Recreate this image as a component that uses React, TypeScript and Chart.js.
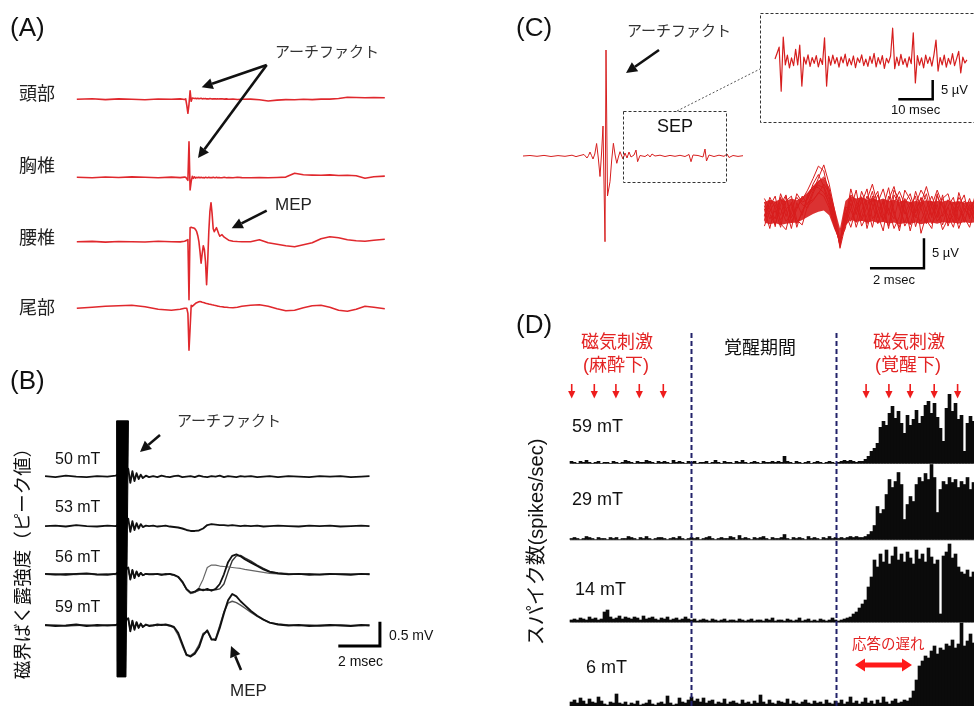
import React, { useEffect, useRef } from "react";
import { Chart, registerables } from "chart.js";

Chart.register(...registerables);

const W = 974;
const H = 706;
const FONT = '"Liberation Sans", "Noto Sans CJK JP", Arial, sans-serif';

// ================= Panel A : spinal recordings (ms, arbitrary units) =================
const timeA = [-25.5, -22, -19, -16, -13, -10, -7, -4, -2, -1,
  -0.75, -0.5, -0.25, 0, 0.25, 0.5, 0.75, 1, 1.25, 1.5,
  1.75, 2, 2.25, 2.5, 2.75, 3, 3.25, 3.5, 3.75, 4,
  4.25, 4.5, 4.75, 5, 5.25, 5.5, 5.75, 6, 6.25, 6.5,
  6.75, 7, 7.5, 8, 8.5, 9, 10, 11, 12, 14,
  16, 18, 20, 22, 24, 26, 28, 30, 32, 34,
  36, 38, 40, 42, 44.5];
const headA = [0, 0.05, -0.03, 0.04, 0, -0.05, 0.03, 0, 0.04, -0.02,
  0.05, -0.6, -1.4, -0.5, 0.86, -0.2, 0.12, 0.1, 0.08, 0.1,
  0.06, 0.1, 0.05, 0.08, 0.1, 0.04, 0.07, 0.05, 0.08, 0.04,
  0.06, 0.03, 0.07, 0.05, 0.02, 0.06, 0.04, 0.05, 0.02, 0.06,
  0.03, 0.04, 0.05, 0.02, 0.04, 0, 0.03, -0.02, 0, 0.02,
  -0.05, -0.17, -0.08, -0.03, -0.05, 0, -0.03, 0.02, 0.02, 0.08,
  0.2, 0.18, 0.15, 0.17, 0.16];
const thoracicA = [0, -0.05, 0.03, -0.02, 0.04, 0, -0.04, 0.02, -0.03, 0.02,
  0, -0.15, -0.3, 3.56, -1.27, -0.4, 0.1, -0.1, 0.05, -0.08,
  0, -0.05, 0.02, -0.06, 0, -0.04, -0.02, -0.06, 0, -0.03,
  -0.05, 0.01, -0.04, -0.02, -0.05, 0, -0.03, -0.04, 0, -0.05,
  -0.02, -0.03, -0.04, 0, -0.05, -0.02, -0.04, 0, -0.03, -0.04,
  -0.02, -0.05, -0.02, 0.02, 0.4, 0.25, 0.22, 0.2, 0.24, 0.18,
  0.2, 0.15, -0.1, 0.05, 0.12];
const lumbarA = [0, 0.03, -0.04, 0.02, 0, -0.03, 0.04, 0, -0.02, 0.05,
  0.1, 0.15, 0.2, -5.8, 1.4, 1.45, 1.4, 1.38, 1.35, 1.2,
  1.0, 0.6, 0.0, -1.0, -2.15, -1.2, -0.4, -0.8, -2.0, -4.3,
  -2.0, 1.0, 3.0, 3.9, 2.8, 1.3, 1.0, 1.2, 1.4, 1.1,
  0.8, 0.55, 0.7, 0.45, 0.3, 0.15, 0.05, 0.02, 0, 0,
  0.2, -0.1, -0.25, -0.4, -0.5, -0.3, -0.1, 0.3, 0.5, 0.4,
  0.2, 0.1, 0.05, 0.15, 0.25];
const sacralA = [0, 0.1, 0.2, 0.25, 0.3, 0.15, -0.1, -0.2, -0.1, 0,
  0, 0, -0.5, -4.2, -2.0, 0.3, 0.2, 0.3, 0.4, 0.5,
  0.55, 0.6, 0.65, 0.68, 0.65, 0.6, 0.58, 0.55, 0.5, 0.48,
  0.45, 0.42, 0.4, 0.38, 0.35, 0.33, 0.3, 0.28, 0.25, 0.22,
  0.2, 0.18, 0.15, 0.12, 0.1, 0.08, 0.05, 0.1, 0.2, 0.3,
  0.35, 0.2, -0.05, -0.25, -0.2, 0.05, 0.25, 0.3, 0.1, -0.2,
  -0.3, -0.1, 0.2, 0.1, -0.05];
const siteNamesA = ["頭部", "胸椎", "腰椎", "尾部"];

// ================= Panel B : MEP by field intensity (ms, mV) =================
const timeB = [-3.7, -3.2, -2.7, -2.2, -1.7, -1.2, -0.7, -0.3,
  0.3, 0.4, 0.5, 0.6, 0.7, 0.8, 0.9, 1.0, 1.15, 1.3,
  1.5, 1.7, 1.9, 2.1, 2.3, 2.5, 2.7, 2.9, 3.1, 3.3, 3.5, 3.7, 3.9, 4.1, 4.3, 4.5, 4.7, 4.9, 5.1, 5.3, 5.5, 5.7, 5.9,
  6.2, 6.5, 6.8, 7.1, 7.5, 8, 8.5, 9, 9.5, 10, 10.5, 11, 11.5, 11.9];
const mep50 = [0.01, -0.01, 0.02, 0, -0.01, 0.01, 0, 0.02,
  0.16, -0.13, 0.11, -0.09, 0.07, -0.05, 0.04, -0.03, 0.02, -0.01,
  0.01, -0.01, 0.02, 0, -0.01, 0.01, 0.02, -0.01, 0, 0.01, -0.01, 0.02, 0, -0.01, 0.01, 0, 0.02, -0.01, 0.01, 0, -0.01, 0.01, 0,
  0.01, -0.01, 0, 0.01, -0.01, 0.01, 0, -0.01, 0.01, 0, 0.01, -0.01, 0, 0.01];
const mep53 = [0, 0.01, -0.01, 0.02, 0, -0.01, 0.01, 0,
  0.15, -0.12, 0.1, -0.08, 0.06, -0.05, 0.04, -0.02, 0.01, 0,
  0.01, -0.01, 0, 0.01, -0.01, -0.02, -0.03, -0.05, -0.08, -0.1, -0.1, -0.09, -0.05, 0.02, 0.04, 0.03, 0.02, 0.02, 0.01, 0.02, 0.01, 0, 0.01,
  0, 0.01, -0.01, 0, 0.01, 0, -0.01, 0.01, 0, 0.01, -0.01, 0, 0.01, 0];
const mep56a = [0.01, 0, -0.01, 0.01, 0.02, 0, -0.01, 0.01,
  0.14, -0.11, 0.09, -0.08, 0.06, -0.04, 0.03, -0.02, 0.01, 0,
  0, 0.01, -0.01, 0, 0.01, -0.01, -0.05, -0.15, -0.3, -0.38, -0.36, -0.3, -0.33, -0.3, -0.34, -0.3, -0.2, 0, 0.25, 0.38, 0.41, 0.37, 0.31,
  0.24, 0.17, 0.1, 0.05, 0.02, 0, 0.01, -0.01, 0, 0.01, 0, -0.01, 0.01, 0];
const mep56b = [0, 0.01, 0, -0.01, 0.01, 0, 0.01, -0.01,
  0.12, -0.1, 0.08, -0.07, 0.05, -0.04, 0.03, -0.02, 0, 0.01,
  0.01, 0, 0.01, -0.01, 0, -0.02, -0.06, -0.17, -0.32, -0.4, -0.37, -0.28, -0.1, 0.14, 0.19, 0.19, 0.17, 0.16, 0.15, 0.14, 0.13, 0.12, 0.1,
  0.08, 0.06, 0.04, 0.02, 0.01, 0, 0.01, 0, -0.01, 0, 0.01, 0, 0, 0];
const mep56c = [0, -0.01, 0.01, 0, 0.01, -0.01, 0, 0.01,
  0.13, -0.1, 0.09, -0.07, 0.05, -0.04, 0.03, -0.02, 0.01, 0,
  0.01, 0, -0.01, 0.01, 0, -0.02, -0.06, -0.16, -0.31, -0.39, -0.37, -0.33, -0.31, -0.33, -0.32, -0.32, -0.3, -0.2, 0.05, 0.28, 0.38, 0.39, 0.34,
  0.27, 0.19, 0.12, 0.06, 0.03, 0.01, 0, 0.01, -0.01, 0, 0.01, 0, 0, 0.01];
const mep59a = [0.01, -0.01, 0, 0.02, -0.01, 0.01, 0, 0.01,
  0.15, -0.12, 0.1, -0.09, 0.07, -0.05, 0.04, -0.03, 0.02, -0.01,
  0, 0.02, 0.01, 0.02, 0, -0.03, -0.15, -0.38, -0.6, -0.64, -0.58, -0.45, -0.2, -0.1, -0.28, -0.3, -0.05, 0.25, 0.52, 0.65, 0.6, 0.5, 0.42,
  0.3, 0.2, 0.12, 0.06, 0.02, 0, 0.01, -0.01, 0, 0.01, 0, -0.01, 0.01, 0];
const mep59b = [0, 0.01, -0.01, 0, 0.01, -0.01, 0.01, 0,
  0.13, -0.1, 0.09, -0.07, 0.06, -0.04, 0.03, -0.02, 0.01, 0,
  0.01, 0, 0.02, 0.01, -0.01, -0.05, -0.2, -0.42, -0.62, -0.62, -0.55, -0.4, -0.16, -0.12, -0.3, -0.27, 0, 0.28, 0.46, 0.5, 0.47, 0.42, 0.36,
  0.27, 0.19, 0.12, 0.06, 0.03, 0.01, 0, 0.01, -0.01, 0, 0.01, 0, 0, 0.01];
const artifactTimeB = [-0.26, 0.31, 0.19, -0.24, -0.26];
const artifactAmpB = [4.22, 4.22, -1.06, -1.06, 4.22];
const intensityNamesB = ["50 mT", "53 mT", "56 mT", "59 mT"];

// ================= Panel C : SEP =================
const timeC = [-41, -37.5, -34, -30.5, -27, -23.5, -20, -16.5, -14.5, -12.5,
  -10.5, -9, -8.25, -7.5, -6.75, -6, -5.1, -4.2, -3.35, -2.5,
  -1.75, -1, 0, 0.5, 1.25, 2.5, 3.35, 4.2, 5.05, 5.9,
  6.7, 7.5, 9, 10, 11, 12, 13, 14.5, 15.5, 16.3,
  17.5, 20, 21.5, 22.5, 23.5, 25, 27.5, 30, 32.5, 35,
  37.5, 40, 42, 43, 44, 46.5, 49, 50, 50.75, 52,
  54.5, 57, 59.5, 61, 62, 64, 66.5, 69];
const rawC = [0, 0.5, -0.3, 0.6, -0.5, 0.4, -0.3, 0.8, -0.6, 0.5,
  1.5, -2, 0.5, 4, 0.5, -3, 2, 12.5, -2, -20.5,
  2, 30, -85.7, 106, -40, -25.7, -4, 12.7, 1, -7.3,
  -1, 4.3, -3, 3, -2, 4, -1, 1, 6, -5.7,
  0.5, -0.5, 1.5, -1, 2, 0, 0.8, -0.5, 0.6, -0.3,
  0.7, -0.5, 1.5, -5.7, 1, 0.5, -1, 7, -5, 1,
  -0.5, 0.8, -0.3, 2, -1.5, 0.5, -0.4, 0.3];
const insetDt = 0.6; // ms per sample
const insetC = [0.5, 2.0, 3.6, -7.8, 6.2, -1.0, 1.5, -1.8, 0.8, -1.2,
  3.0, -1.0, 4.1, -6.5, 1.0, -0.8, 1.6, -1.4, 0.9, -0.6,
  1.4, -1.5, 0.7, -0.9, 6.0, -6.5, 1.2, -1.1, 1.5, -0.7,
  0.9, -1.6, 1.1, -0.5, 1.8, -1.3, 0.6, -1.0, 1.3, -1.7,
  0.8, -0.4, 1.6, -1.2, 0.5, -1.4, 1.2, -0.6, 2.0, -1.5,
  0.9, -0.8, 1.4, -1.9, 0.7, -0.5, 1.3, 8.5, -2.0, 1.0,
  -1.2, 1.7, -0.9, 0.6, -1.6, 1.1, -0.7, 7.3, -5.7, 1.4,
  -1.1, 0.8, -1.8, 1.5, -0.6, 1.0, -1.3, 1.6, 5.4, -2.6,
  0.9, -1.0, 1.5, -1.6, 0.7, -0.8, 1.9, -1.2, 0.6, 2.5,
  -3.1, 1.0, -0.5, 0.3];
const sweepDt = 0.2; // ms per sample
const sweepUpper = [1.6, 2.0, 1.7, 2.1, 1.8, 2.2, 1.9, 2.4, 3.2, 4.3, 5.2, 5.6, 4.0, 0.6, -2.8, 1.8, 2.6, 2.2, 2.4, 2.0,
  2.3, 1.9, 2.2, 1.8, 2.0, 1.7, 1.9, 1.6, 1.8, 1.7, 1.9, 1.6, 1.8, 1.7, 1.9, 1.6, 1.8, 1.5, 1.7, 1.6];
const sweepLower = [-1.8, -2.1, -1.9, -2.2, -2.0, -1.9, -1.8, -1.4, -0.9, -0.4, 0.0, 0.2, -0.6, -3.0, -5.0, -2.4, -1.3, -1.7, -1.5, -1.8,
  -1.6, -1.9, -1.7, -2.0, -1.8, -2.1, -1.9, -2.0, -1.8, -2.1, -1.9, -1.8, -2.0, -1.7, -1.9, -1.8, -2.0, -1.7, -1.9, -1.8];
const sweep1 = [0.5, -2.8, 1.2, -0.6, 2.6, -1.0, 0.8, 2.0, 3.6, 5.5, 7.6, 6.8, 2.5, -2.0, -5.6, -0.8, 2.2, -0.5, 3.4, 1.0,
  -2.6, 1.5, 3.8, 0.2, -1.2, 2.5, -0.4, 1.6, -2.5, 0.8, 3.0, -0.6, 1.2, -2.2, 0.9, 2.4, -1.5, 0.6, -0.9, 0.3];
const sweep2 = [-1.5, 1.8, -2.5, 2.4, -0.8, 1.6, -2.6, 0.2, 1.5, 2.0, 3.0, 4.6, 3.2, -0.4, -6.1, -2.2, 0.5, 3.6, -1.5, 0.8,
  3.4, -0.5, -3.2, 2.0, 4.2, 0.5, -1.8, 0.9, 2.6, -3.6, -0.5, 1.8, -1.0, 2.8, -2.4, 0.3, 1.6, -1.8, 1.2, -0.4];
const sweep3 = [2.2, 0.4, -1.2, 3.0, 0.5, -2.8, 1.5, -0.6, 2.8, 4.2, 4.0, 3.2, 1.5, -1.8, -5.0, 0.5, -1.6, 1.0, 2.5, -2.8,
  0.6, 2.8, -0.3, -2.4, 1.4, 3.4, 1.2, -3.2, 0.4, 2.2, -1.4, -2.8, 2.6, 0.8, -0.6, -2.6, 1.0, 2.8, -1.2, 1.5];
const sweep4 = [-0.6, 0.9, 2.6, -2.0, -3.0, 0.6, 2.4, 1.2, 0.6, 3.0, 5.0, 5.8, 3.8, -0.8, -5.4, -1.4, 1.4, -2.6, 0.2, 2.6,
  1.2, -2.0, 0.8, 4.0, -0.6, -2.6, 2.2, 0.4, -1.0, 1.4, 4.2, 0.9, -1.6, -0.4, 2.0, 0.8, -2.8, -0.2, 2.2, -1.0];
const sweep5 = [1.0, -1.2, 0.2, -2.6, 1.8, 2.6, -1.4, -2.2, 1.0, 1.8, 3.2, 2.6, 0.6, -2.6, -4.6, -2.8, 2.8, 1.8, -2.4, -0.6,
  1.8, 3.4, -1.4, 0.6, -2.8, -0.8, 3.6, 2.0, -0.8, -1.6, 0.6, 2.6, 0.2, -3.0, -1.2, 1.6, 0.4, -0.9, -2.6, 0.8];
const sweep6 = [-2.4, 0.2, 1.6, 0.5, -1.6, -0.4, 3.0, 1.6, 2.0, 4.6, 6.2, 4.2, 2.0, -1.0, -5.8, -0.2, -2.6, 0.6, 1.4, 3.8,
  -1.2, 0.2, 1.6, -2.8, 2.8, 1.2, -2.4, -0.6, 3.4, 0.6, -2.0, 1.0, 3.6, 1.2, -1.8, -0.6, 2.4, 1.0, 0.2, 2.0];
const sweep7 = [1.6, -0.4, -2.2, 1.2, 2.8, -1.8, 0.4, 2.6, 1.2, 3.4, 5.6, 7.8, 4.6, 0.2, -4.8, -1.6, 3.8, 0.6, -1.0, 2.0,
  4.6, 1.0, -1.6, 2.6, 0.2, -3.2, 1.4, 3.0, -0.2, 2.4, 0.2, -2.0, -0.4, 2.2, 3.0, -0.2, -1.4, 1.8, 0.6, -1.6];
const sweep8 = [-0.8, 2.4, 0.6, -1.4, 0.4, 1.4, -2.0, -0.2, 2.4, 3.8, 4.4, 4.0, 1.0, -2.4, -5.2, 0.8, 0.2, -1.8, 2.2, -2.0,
  2.6, -1.0, 2.0, -0.6, 3.6, 2.0, 0.0, -2.2, 1.2, 3.6, 2.0, -1.0, 3.0, -0.8, 0.8, -1.8, 3.2, 0.4, -0.6, 2.6];

// ================= Panel D : spike histograms (spikes/sec per bin) =================
const rate59 = [2, 1, 0, 2, 1, 3, 1, 0, 1, 2, 0, 1, 1, 0, 2, 1, 0, 1, 3, 2,
  1, 0, 2, 1, 1, 3, 2, 1, 0, 2, 1, 2, 1, 0, 3, 1, 2, 1, 0, 2,
  1, 2, 0, 1, 1, 2, 0, 1, 3, 1, 0, 2, 1, 1, 0, 2, 1, 3, 1, 0,
  1, 2, 1, 0, 2, 1, 1, 2, 1, 2, 1, 7, 2, 1, 0, 2, 1, 0, 1, 2,
  0, 1, 2, 1, 0, 1, 2, 1, 0, 1, 2, 3, 2, 3, 2, 1, 2, 2, 4, 7,
  12, 15, 20, 36, 42, 38, 50, 57, 45, 52, 40, 30, 48, 38, 44, 53, 40, 47, 58, 62,
  50, 60, 46, 35, 22, 55, 69, 52, 60, 44, 48, 12, 40, 47, 42];
const rate29 = [1, 2, 1, 0, 1, 3, 2, 1, 0, 2, 1, 1, 0, 2, 1, 2, 0, 1, 1, 3,
  2, 1, 0, 2, 1, 3, 1, 0, 1, 2, 2, 1, 0, 1, 2, 1, 3, 1, 0, 1,
  2, 1, 2, 0, 1, 2, 3, 1, 0, 1, 2, 1, 1, 3, 2, 0, 4, 1, 2, 1,
  0, 2, 1, 2, 3, 1, 0, 2, 1, 1, 2, 5, 1, 0, 2, 1, 2, 1, 0, 3,
  1, 2, 1, 0, 2, 1, 3, 1, 2, 1, 2, 1, 2, 3, 2, 3, 2, 2, 3, 5,
  8, 14, 33, 26, 30, 45, 60, 52, 58, 67, 55, 20, 35, 43, 38, 55, 62, 58, 66, 60,
  75, 62, 27, 50, 58, 55, 62, 57, 60, 52, 58, 55, 62, 50, 57];
const rate14 = [2, 3, 2, 4, 3, 2, 5, 3, 4, 2, 3, 10, 12, 5, 3, 4, 6, 3, 5, 4,
  3, 5, 4, 2, 6, 3, 4, 5, 3, 2, 4, 3, 5, 2, 3, 4, 2, 3, 5, 3,
  2, 3, 1, 2, 3, 2, 1, 3, 2, 1, 2, 3, 1, 2, 2, 1, 3, 2, 1, 2,
  3, 1, 2, 2, 1, 3, 2, 4, 1, 2, 2, 1, 3, 2, 1, 2, 4, 1, 2, 3,
  1, 2, 1, 3, 2, 1, 2, 4, 2, 1, 2, 3, 4, 5, 8, 10, 14, 18, 22, 35,
  45, 62, 55, 68, 60, 72, 58, 66, 75, 62, 68, 60, 70, 64, 58, 72, 63, 68, 60, 74,
  65, 58, 62, 8, 66, 70, 78, 64, 68, 55, 50, 48, 52, 45, 50];
const rate6 = [4, 6, 3, 8, 5, 2, 7, 4, 3, 9, 5, 2, 1, 4, 3, 12, 3, 2, 4, 1,
  3, 2, 5, 1, 2, 3, 6, 2, 1, 3, 4, 2, 10, 3, 1, 2, 8, 4, 3, 6,
  9, 5, 7, 4, 8, 3, 5, 6, 2, 4, 3, 7, 2, 4, 5, 3, 2, 6, 3, 4,
  2, 5, 3, 11, 4, 2, 6, 3, 2, 5, 4, 3, 7, 2, 5, 3, 2, 4, 6, 3,
  2, 5, 3, 4, 2, 6, 3, 2, 5, 3, 6, 2, 4, 9, 3, 5, 2, 4, 8, 3,
  5, 2, 6, 3, 9, 4, 2, 5, 7, 3, 4, 6, 5, 8, 15, 26, 40, 45, 50, 48,
  55, 60, 52, 58, 56, 62, 60, 66, 58, 62, 83, 60, 65, 72, 63];
const stimAnesthesia = [0.07, 7.6, 14.8, 22.6, 30.6];
const stimAwake = [98.2, 105.8, 112.9, 120.9, 128.7];
const periodBounds = [39.8, 88.2];
const rowNamesD = ["59 mT", "29 mT", "14 mT", "6 mT"];

// ================= layout (pixels) =================
function xAxis(zeroPx: number, pxPerUnit: number) {
  return { type: "linear", axis: "x", display: false, offset: false, bounds: "data",
    min: -zeroPx / pxPerUnit, max: (W - zeroPx) / pxPerUnit };
}
function yAxis(zeroPx: number, pxPerUnit: number) {
  return { type: "linear", axis: "y", display: false, offset: false, bounds: "data",
    min: (zeroPx - H) / pxPerUnit, max: zeroPx / pxPerUnit };
}
const offsetsA = [20.9, 13.1, 6.66, 0];
const offsetsB = [3.07, 2.05, 1.056, 0];

const RED_A = "#e0282d";
const RED_C = "#d61e1e";

type Pt = { x: number; y: number };
const pts = (xs: number[], ys: number[], off = 0): Pt[] => xs.map((x, i) => ({ x, y: ys[i] + off }));
const sampled = (ys: number[], dt: number): Pt[] => ys.map((y, i) => ({ x: i * dt, y }));

function lineDs(xAxisID: string, yAxisID: string, data: Pt[], color: string, width: number, order: number, extra: any = {}) {
  return { type: "line", xAxisID, yAxisID, data, borderColor: color, backgroundColor: color,
    borderWidth: width, pointRadius: 0, fill: false, order, borderJoinStyle: "round", ...extra };
}
function scaleBar(xAxisID: string, yAxisID: string, ax: number, ay: number, len: number, amp: number, width: number) {
  return lineDs(xAxisID, yAxisID, [{ x: ax - len, y: ay }, { x: ax, y: ay }, { x: ax, y: ay + amp }], "#000", width, 0,
    { borderJoinStyle: "miter", borderCapStyle: "butt" });
}

function buildDatasets() {
  const ds: any[] = [];
  // A
  [headA, thoracicA, lumbarA, sacralA].forEach((v, i) => ds.push(lineDs("xA", "yA", pts(timeA, v, offsetsA[i]), RED_A, 1.6, 2)));
  // B
  ds.push(lineDs("xB", "yB", pts(timeB, mep50, offsetsB[0]), "#111", 1.9, 2));
  ds.push(lineDs("xB", "yB", pts(timeB, mep53, offsetsB[1]), "#111", 1.9, 2));
  ds.push(lineDs("xB", "yB", pts(timeB, mep56b, offsetsB[2]), "#666", 1.2, 3));
  ds.push(lineDs("xB", "yB", pts(timeB, mep56c, offsetsB[2]), "#333", 1.4, 3));
  ds.push(lineDs("xB", "yB", pts(timeB, mep56a, offsetsB[2]), "#111", 1.8, 2));
  ds.push(lineDs("xB", "yB", pts(timeB, mep59b, offsetsB[3]), "#555", 1.4, 3));
  ds.push(lineDs("xB", "yB", pts(timeB, mep59a, offsetsB[3]), "#111", 1.9, 2));
  ds.push(lineDs("xB", "yB", pts(artifactTimeB, artifactAmpB), "#000", 1, 0, { fill: "shape", backgroundColor: "#000" }));
  ds.push(scaleBar("xB", "yB", 12.4, -0.423, 2, 0.5, 3));
  // C main
  ds.push(lineDs("xC", "yC", pts(timeC, rawC), RED_C, 1, 2));
  // C inset
  ds.push(lineDs("xCi", "yCi", sampled(insetC, insetDt), RED_C, 1.2, 2));
  ds.push(scaleBar("xCi", "yCi", 45.84, -9.92, 10, 5, 2.5));
  // C overlay band + sweeps
  ds.push(lineDs("xCo", "yCo", sampled(sweepUpper, sweepDt), "rgba(0,0,0,0)", 0, 5, { fill: "+1", backgroundColor: "rgba(214,22,22,0.88)" }));
  ds.push(lineDs("xCo", "yCo", sampled(sweepLower, sweepDt), "rgba(0,0,0,0)", 0, 5));
  [sweep1, sweep2, sweep3, sweep4, sweep5, sweep6, sweep7, sweep8].forEach((s) =>
    ds.push(lineDs("xCo", "yCo", sampled(s, sweepDt), "#d81c1c", 1, 4)));
  ds.push(scaleBar("xCo", "yCo", 5.91, -9.43, 2, 5, 2.5));
  // D
  [rate59, rate29, rate14, rate6].forEach((r, i) => {
    ds.push({ type: "bar", xAxisID: "xD", yAxisID: ["yD59", "yD29", "yD14", "yD6"][i],
      data: r.map((v, k) => ({ x: k, y: v })), backgroundColor: "#0b0b0b", borderWidth: 0,
      barPercentage: 1, categoryPercentage: 1, grouped: false, order: 10 });
  });
  return ds;
}

function text(ctx: any, s: string, x: number, y: number, size: number, color = "#111", align = "left", rotate = false, weight = "normal") {
  ctx.save();
  ctx.font = `${weight} ${size}px ${FONT}`;
  ctx.fillStyle = color;
  ctx.textAlign = align;
  ctx.textBaseline = "middle";
  if (rotate) {
    ctx.translate(x, y);
    ctx.rotate(-Math.PI / 2);
    ctx.fillText(s, 0, 0);
  } else ctx.fillText(s, x, y);
  ctx.restore();
}
function arrow(ctx: any, x0: number, y0: number, x1: number, y1: number, color = "#111", lw = 2.6, hl = 11, hh = 5.5) {
  const a = Math.atan2(y1 - y0, x1 - x0);
  const bx = x1 - hl * Math.cos(a), by = y1 - hl * Math.sin(a);
  ctx.save();
  ctx.strokeStyle = color; ctx.fillStyle = color; ctx.lineWidth = lw;
  ctx.beginPath(); ctx.moveTo(x0, y0); ctx.lineTo(bx, by); ctx.stroke();
  ctx.beginPath(); ctx.moveTo(x1, y1);
  ctx.lineTo(bx + hh * Math.sin(a), by - hh * Math.cos(a));
  ctx.lineTo(bx - hh * Math.sin(a), by + hh * Math.cos(a));
  ctx.closePath(); ctx.fill();
  ctx.restore();
}
function dashedRect(ctx: any, x0: number, y0: number, x1: number, y1: number) {
  ctx.save();
  ctx.strokeStyle = "#333"; ctx.lineWidth = 1; ctx.setLineDash([3, 2]);
  ctx.strokeRect(x0, y0, x1 - x0, y1 - y0);
  ctx.restore();
}

const annotationPlugin = {
  id: "figureAnnotations",
  beforeDatasetsDraw(chart: any) {
    const ctx = chart.ctx;
    const xD = chart.scales.xD;
    ctx.save();
    ctx.strokeStyle = "#c4c4c4"; ctx.lineWidth = 1;
    ["yD59", "yD29", "yD14"].forEach((id) => {
      const y = Math.round(chart.scales[id].getPixelForValue(0)) + 0.5;
      ctx.beginPath(); ctx.moveTo(xD.getPixelForValue(-0.5), y); ctx.lineTo(W, y); ctx.stroke();
    });
    ctx.restore();
  },
  afterDatasetsDraw(chart: any) {
    const ctx = chart.ctx;
    const xD = chart.scales.xD;
    // panel letters
    text(ctx, "(A)", 10, 29, 26);
    text(ctx, "(B)", 10, 382, 26);
    text(ctx, "(C)", 516, 29, 26);
    text(ctx, "(D)", 516, 326, 26);

    // ---- A ----
    [95, 167, 239, 309].forEach((y, i) => text(ctx, siteNamesA[i], 19, y, 18, "#222"));
    text(ctx, "アーチファクト", 275, 53, 15, "#333");
    arrow(ctx, 266.7, 65, 201.7, 87.3);
    arrow(ctx, 266.7, 65, 198, 158);
    text(ctx, "MEP", 275, 205, 17, "#222");
    arrow(ctx, 266.7, 210.7, 231.7, 228.3);

    // ---- B ----
    [460, 508, 558, 608].forEach((y, i) => text(ctx, intensityNamesB[i], 55, y, 16, "#111"));
    text(ctx, "アーチファクト", 177, 422, 15, "#333");
    arrow(ctx, 160, 435, 140, 452);
    text(ctx, "MEP", 230, 691, 17, "#222");
    arrow(ctx, 241, 670, 231, 646);
    text(ctx, "0.5 mV", 389, 636, 14, "#111");
    text(ctx, "2 msec", 338, 662, 14, "#111");
    text(ctx, "磁界ばく露強度（ピーク値）", 24, 559, 18.5, "#111", "center", true);

    // ---- C ----
    text(ctx, "アーチファクト", 627, 32, 15, "#333");
    arrow(ctx, 659, 50, 626, 73);
    dashedRect(ctx, 623.5, 111.5, 726.5, 182.5);
    text(ctx, "SEP", 675, 127, 18, "#111", "center");
    ctx.save();
    ctx.strokeStyle = "#555"; ctx.lineWidth = 1; ctx.setLineDash([2, 2]);
    ctx.beginPath(); ctx.moveTo(677, 111); ctx.lineTo(760, 69); ctx.stroke();
    ctx.restore();
    dashedRect(ctx, 760.5, 13.5, W + 5, 122.5);
    text(ctx, "5 µV", 941, 90, 13, "#111");
    text(ctx, "10 msec", 891, 110, 13, "#111");
    text(ctx, "5 µV", 932, 253, 13, "#111");
    text(ctx, "2 msec", 873, 280, 13, "#111");

    // ---- D ----
    const red = "#e32323";
    text(ctx, "磁気刺激", 617, 343, 18, red, "center");
    text(ctx, "(麻酔下)", 616, 366, 18, red, "center");
    text(ctx, "覚醒期間", 760, 349, 18, "#111", "center");
    text(ctx, "磁気刺激", 909, 343, 18, red, "center");
    text(ctx, "(覚醒下)", 908, 366, 18, red, "center");
    [...stimAnesthesia, ...stimAwake].forEach((t) => {
      const x = xD.getPixelForValue(t);
      ctx.save();
      ctx.strokeStyle = "#ee1c1c"; ctx.fillStyle = "#ee1c1c"; ctx.lineWidth = 1.6;
      ctx.beginPath(); ctx.moveTo(x, 384); ctx.lineTo(x, 392); ctx.stroke();
      ctx.beginPath(); ctx.moveTo(x - 3.6, 391); ctx.lineTo(x + 3.6, 391); ctx.lineTo(x, 398.5); ctx.closePath(); ctx.fill();
      ctx.restore();
    });
    periodBounds.forEach((b) => {
      const x = Math.round(xD.getPixelForValue(b)) + 0.5;
      ctx.save();
      ctx.strokeStyle = "#22226a"; ctx.lineWidth = 2; ctx.setLineDash([5, 3]);
      ctx.beginPath(); ctx.moveTo(x, 333); ctx.lineTo(x, H); ctx.stroke();
      ctx.restore();
    });
    [[572, 427], [572, 500], [575, 590], [586, 668]].forEach(([x, y], i) => text(ctx, rowNamesD[i], x, y, 18, "#111"));
    text(ctx, "応答の遅れ", 852, 645, 14.5, red);
    // double-headed delay arrow
    {
      const x0 = xD.getPixelForValue(94.5), x1 = xD.getPixelForValue(113.5), y = 665;
      const hl = 10, hh = 6.5, sh = 2.6;
      ctx.save(); ctx.fillStyle = "#ff1a1a";
      ctx.beginPath();
      ctx.moveTo(x0, y); ctx.lineTo(x0 + hl, y - hh); ctx.lineTo(x0 + hl, y - sh); ctx.lineTo(x1 - hl, y - sh);
      ctx.lineTo(x1 - hl, y - hh); ctx.lineTo(x1, y); ctx.lineTo(x1 - hl, y + hh); ctx.lineTo(x1 - hl, y + sh);
      ctx.lineTo(x0 + hl, y + sh); ctx.lineTo(x0 + hl, y + hh); ctx.closePath(); ctx.fill();
      ctx.restore();
    }
    text(ctx, "スパイク数(spikes/sec)", 537, 542, 20, "#111", "center", true);
  },
};

export default function App() {
  const ref = useRef<HTMLCanvasElement>(null);
  useEffect(() => {
    const canvas = ref.current;
    if (!canvas) return;
    const chart = new Chart(canvas, {
      type: "line",
      data: { datasets: buildDatasets() },
      options: {
        responsive: false,
        animation: false,
        devicePixelRatio: 1,
        events: [],
        layout: { padding: 0 },
        plugins: { legend: { display: false }, tooltip: { enabled: false } },
        elements: { point: { radius: 0 }, line: { tension: 0 } },
        scales: {
          xA: xAxis(189, 4.4), yA: yAxis(308.3, 10),
          xB: xAxis(122, 20.8), yB: yAxis(625.5, 48.5),
          xC: xAxis(605, 2), yC: yAxis(156, 1),
          xCi: xAxis(775, 3.44), yCi: yAxis(61, 3.86),
          xCo: xAxis(764.4, 27), yCo: yAxis(211.7, 6),
          xD: xAxis(571.5, 3),
          yD59: yAxis(463.3, 1), yD29: yAxis(539.5, 1), yD14: yAxis(622, 1), yD6: yAxis(706, 1),
        },
      } as any,
      plugins: [annotationPlugin],
    } as any);
    return () => chart.destroy();
  }, []);
  return (
    <div style={{ position: "fixed", left: 0, top: 0, width: W, height: H, background: "#fff" }}>
      <canvas ref={ref} width={W} height={H} style={{ width: W, height: H, display: "block" }} />
    </div>
  );
}
